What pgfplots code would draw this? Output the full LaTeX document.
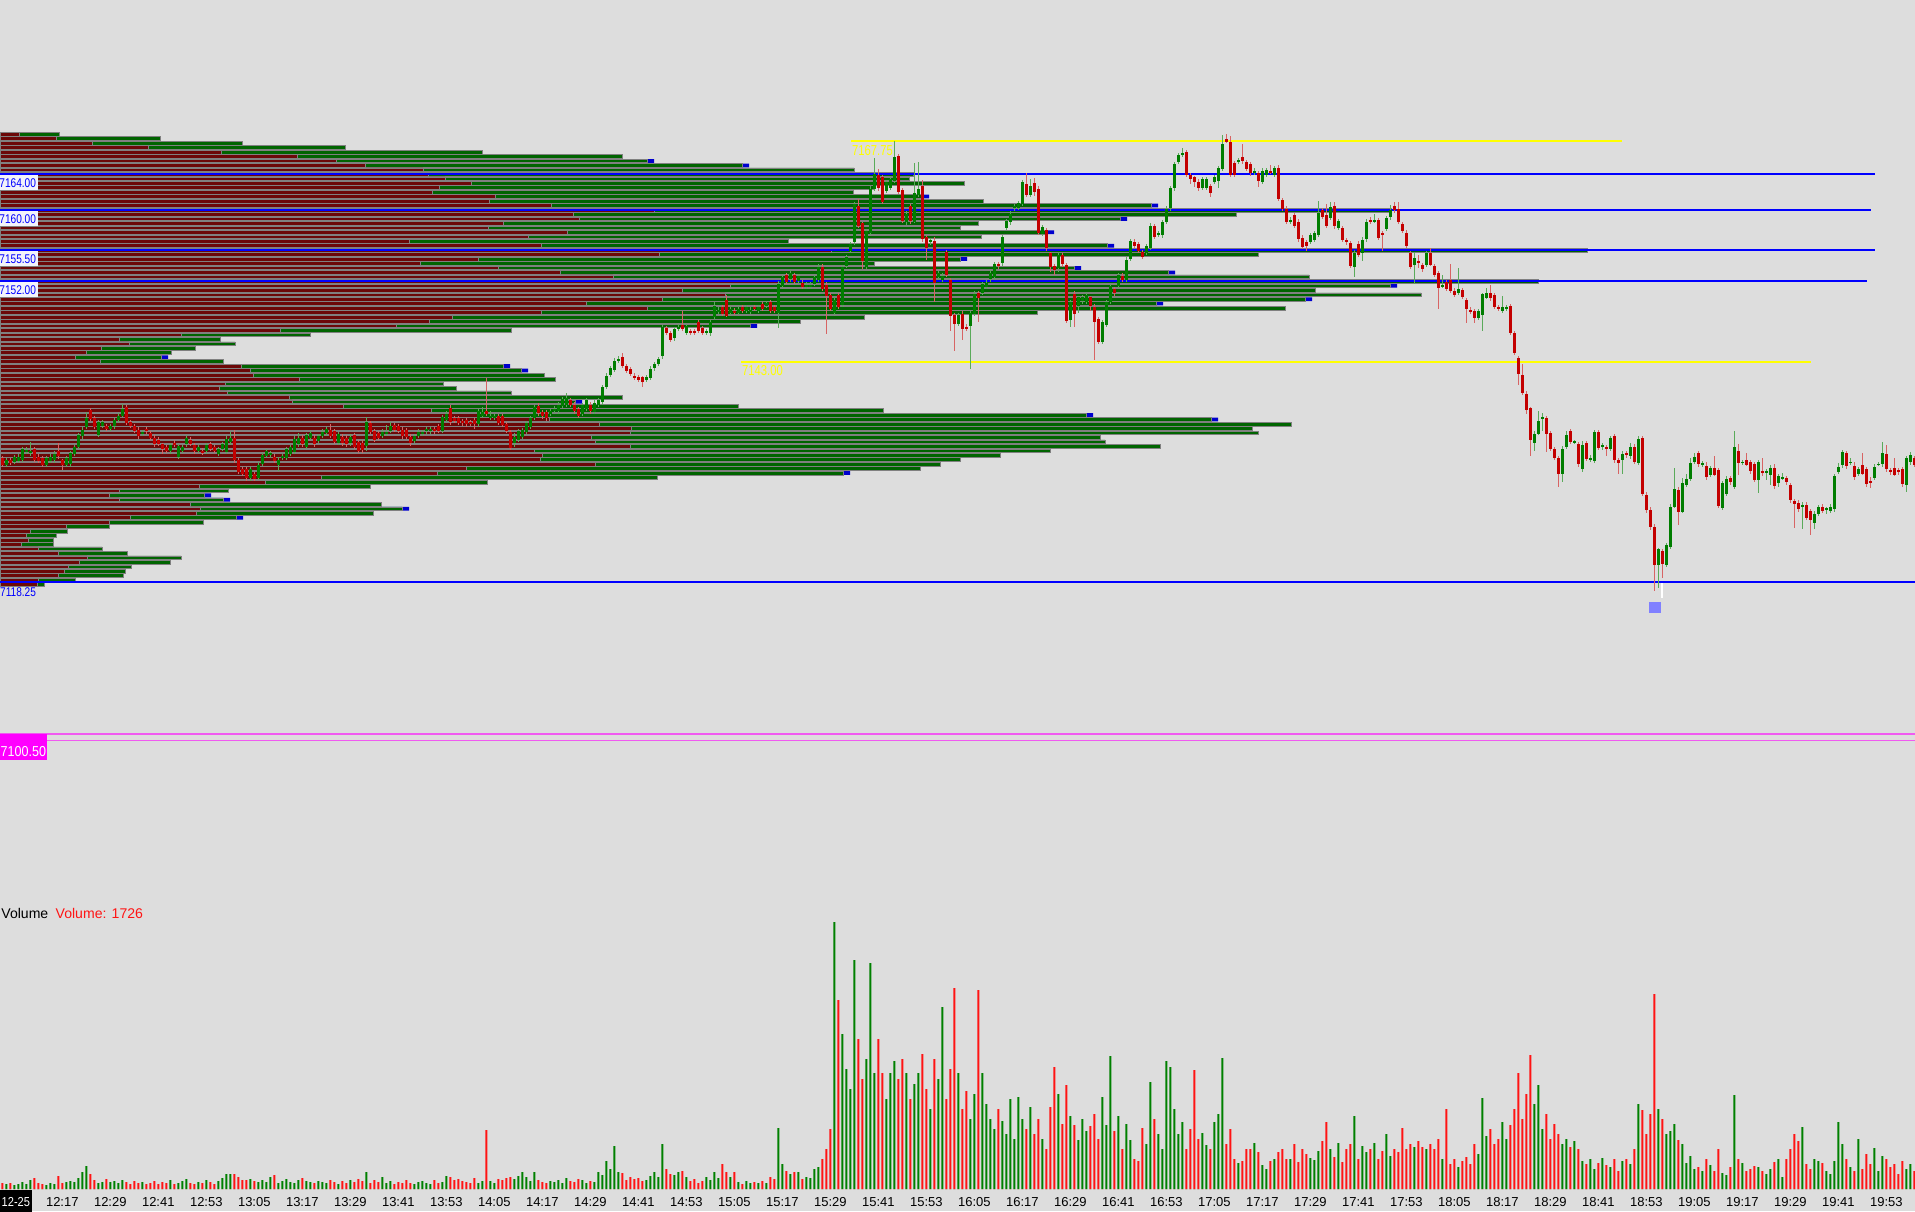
\documentclass[border=0pt]{standalone}
\usepackage{pgfplots}
\pgfplotsset{compat=1.18}
\usepackage{pgfplotstable}
\usepackage{fontspec}
\setmainfont{Liberation Sans}
\definecolor{bg}{RGB}{221,221,221}
\definecolor{pred}{RGB}{108,8,8}
\definecolor{pgreen}{RGB}{0,100,0}
\definecolor{pblue}{RGB}{0,0,205}
\definecolor{cgreen}{RGB}{0,125,0}
\definecolor{cred}{RGB}{195,0,0}
\definecolor{wgreen}{RGB}{90,170,90}
\definecolor{wred}{RGB}{215,100,100}
\definecolor{vgreen}{RGB}{0,128,0}
\definecolor{vred}{RGB}{255,20,20}
\definecolor{lvlblue}{RGB}{0,0,255}
\definecolor{lvlyellow}{RGB}{255,255,0}
\definecolor{lvlmag}{RGB}{240,90,240}
\definecolor{boxbg}{RGB}{243,243,250}
\definecolor{boxmag}{RGB}{255,0,255}
\definecolor{mk}{RGB}{128,128,255}

\pgfplotstableread{
p r g b
7168.5 19 59 0
7168.0 56 160 0
7167.5 92 242 0
7167.0 148 345 0
7166.5 221 482 0
7166.0 297 622 0
7165.5 336 654 1
7165.0 365 749 1
7164.5 423 854 0
7164.0 428 913 0
7163.5 445 909 0
7163.0 471 964 0
7162.5 439 873 0
7162.0 432 853 0
7161.5 495 929 1
7161.0 489 983 0
7160.5 551 1158 1
7160.0 654 1391 0
7159.5 573 1236 0
7159.0 579 1127 1
7158.5 503 978 0
7158.0 488 960 0
7157.5 567 1054 1
7157.0 528 981 0
7156.5 409 788 0
7156.0 541 1114 1
7155.5 831 1587 0
7155.0 659 1258 0
7154.5 478 967 1
7154.0 420 874 0
7153.5 498 1081 1
7153.0 560 1175 1
7152.5 613 1309 0
7152.0 778 1538 0
7151.5 730 1397 1
7151.0 682 1315 0
7150.5 725 1421 0
7150.0 662 1312 1
7149.5 586 1163 1
7149.0 647 1285 0
7148.5 541 1037 0
7148.0 452 864 0
7147.5 429 800 0
7147.0 396 757 1
7146.5 280 511 0
7146.0 181 310 0
7145.5 119 220 0
7145.0 129 235 0
7144.5 101 195 0
7144.0 86 171 0
7143.5 75 168 1
7143.0 100 223 0
7142.5 241 510 1
7142.0 250 528 1
7141.5 253 544 0
7141.0 299 555 0
7140.5 225 443 0
7140.0 219 456 0
7139.5 227 511 0
7139.0 289 622 0
7138.5 292 582 1
7138.0 343 738 0
7137.5 431 883 0
7137.0 479 1093 1
7136.5 549 1218 1
7136.0 599 1291 0
7135.5 631 1252 0
7135.0 630 1258 0
7134.5 591 1100 0
7134.0 595 1105 0
7133.5 630 1160 0
7133.0 534 1050 0
7132.5 542 1000 0
7132.0 540 960 0
7131.5 595 940 0
7131.0 466 920 0
7130.5 437 850 1
7130.0 321 657 0
7129.5 265 487 0
7129.0 199 370 0
7128.5 119 228 0
7128.0 109 211 1
7127.5 119 230 1
7127.0 190 381 0
7126.5 200 409 1
7126.0 196 373 0
7125.5 130 243 1
7125.0 109 203 0
7124.5 66 109 0
7124.0 30 67 0
7123.5 26 56 0
7123.0 28 53 0
7122.5 21 53 0
7122.0 38 102 0
7121.5 58 127 0
7121.0 87 181 0
7120.5 79 170 0
7120.0 68 131 0
7119.5 64 125 0
7119.0 58 123 0
7118.5 38 75 0
7118.0 37 44 0
}\profile

\pgfplotstableread{
t o h l c v
2 7132.25 7132.5 7131.25 7131.5 6
3 7131.5 7132.25 7131.25 7132 5
4 7132 7132.25 7131.5 7131.75 6
5 7131.75 7132.5 7131.5 7132.25 4
6 7132 7132.75 7131.75 7132.5 5
7 7132 7133.5 7131.75 7133.25 7
8 7133 7133.5 7132.75 7133.25 5
9 7132.75 7134 7132.5 7133 9
10 7133.25 7133.5 7131.75 7132 11
11 7132.5 7132.75 7131.75 7132 6
12 7132.25 7132.5 7131.25 7131.5 5
13 7131.5 7132.5 7131.25 7132.25 4
14 7132 7132.75 7131.75 7132.5 6
15 7132 7133 7131.75 7132.75 5
16 7133 7134 7132.25 7132.5 13
17 7132 7132.25 7131 7131.5 6
18 7131.5 7132.5 7131.25 7132.25 7
19 7131.5 7133 7131.25 7132.75 8
20 7132.75 7133.75 7132.5 7133.5 7
21 7133.5 7135 7133.25 7134.75 11
22 7134.75 7135.75 7134.5 7135.5 17
23 7135.75 7137.5 7135.5 7136.75 23
24 7137.75 7138 7136.5 7136.75 15
25 7136.75 7137 7135.5 7135.75 9
26 7134.75 7136.5 7134.5 7136.25 6
27 7135.75 7136.5 7135.5 7136.25 7
28 7135.75 7136 7135.25 7135.5 10
29 7135.5 7136 7135.25 7135.75 7
30 7135.75 7136.75 7135.5 7136.5 8
31 7136.5 7137.25 7136.25 7137 6
32 7137 7138.25 7136.75 7137.75 9
33 7138 7138.25 7136 7136.25 7
34 7136.25 7136.5 7135.5 7135.75 5
35 7135.75 7136 7135 7135.25 8
36 7135.5 7135.75 7134.5 7134.75 6
37 7135 7135.5 7134.75 7135.25 7
38 7135.5 7135.75 7135 7135.25 5
39 7135 7135.25 7134.25 7134.5 6
40 7134.5 7134.75 7133.5 7133.75 8
41 7134.25 7134.5 7133.5 7133.75 5
42 7133.75 7134 7132.75 7133.25 7
43 7133.5 7133.75 7132.75 7133 6
44 7133 7134 7132.75 7133.75 9
45 7134 7134.25 7133.5 7133.75 5
46 7132.25 7133.75 7132 7133.5 6
47 7133 7133.75 7132.75 7133.5 8
48 7133.75 7134.75 7133.5 7134.5 10
49 7134.25 7134.5 7133.5 7133.75 6
50 7133.75 7134 7132.75 7133 5
51 7133 7133.75 7132.75 7133.5 7
52 7133 7133.25 7132.5 7132.75 6
53 7133 7134 7132.75 7133.75 9
54 7133.75 7134 7133 7133.25 7
55 7133.5 7133.75 7132.75 7133 5
56 7132.75 7133.5 7132.5 7133.25 8
57 7133.25 7134 7133 7133.75 11
58 7133 7134.75 7132.75 7134.5 15
59 7134 7135.25 7133.75 7134.5 15
60 7134.5 7135.5 7131.75 7132 15
61 7132 7132.25 7130.5 7130.75 12
62 7131 7131.25 7130.25 7130.5 9
63 7131 7131.25 7129.75 7130 9
64 7130 7131.25 7129.75 7131 10
65 7130.5 7130.75 7129.75 7130 8
66 7130 7131.75 7129.75 7131.5 7
67 7131.5 7132.75 7131.25 7132.5 9
68 7132.5 7133.25 7132.25 7133 7
69 7132.5 7133 7132.25 7132.75 12
70 7132.5 7132.75 7131.75 7132 14
71 7131.5 7132.25 7130.75 7132 6
72 7132.25 7132.75 7132 7132.5 8
73 7132.25 7133.5 7132 7133.25 10
74 7132.75 7133.75 7132.5 7133.5 7
75 7133 7134.75 7132.75 7134.5 6
76 7133.75 7135 7133.5 7134.5 9
77 7134.5 7134.75 7133.5 7133.75 11
78 7133.5 7135 7133.25 7134.75 8
79 7134.5 7135.25 7134.25 7135 7
80 7134.5 7134.75 7133.5 7133.75 6
81 7134.25 7135 7134 7134.75 8
82 7134.75 7135.5 7134.5 7135.25 7
83 7135 7135.75 7134.75 7135.5 6
84 7135.5 7136 7134.5 7134.75 9
85 7135.25 7135.5 7133.75 7134 7
86 7134 7135.25 7133.75 7135 5
87 7134.75 7135 7133.75 7134 8
88 7134.5 7134.75 7133.5 7133.75 6
89 7134 7135 7133.75 7134.75 9
90 7134.75 7135 7133.25 7133.5 7
91 7134 7134.25 7132.75 7133 10
92 7134 7134.25 7132.75 7133.25 8
93 7133.5 7136.75 7133 7136.25 17
94 7136.25 7136.5 7135 7135.25 6
95 7135.25 7135.5 7134 7134.25 9
96 7135 7135.25 7134.25 7134.5 7
97 7134.75 7135.5 7134.5 7135.25 12
98 7135 7136 7134.75 7135.25 6
99 7135.25 7136.25 7135 7135.75 8
100 7136 7136.25 7135.25 7135.5 5
101 7135.75 7136 7135 7135.25 7
102 7135.5 7135.75 7134.5 7134.75 6
103 7135.25 7135.5 7134.25 7134.5 9
104 7134.75 7135 7133.75 7134 6
105 7134.25 7135 7134 7134.75 5
106 7134.75 7135.5 7134.5 7135.25 7
107 7135 7135.5 7134.75 7135.25 8
108 7135.25 7135.75 7135 7135.5 6
109 7135.25 7135.75 7135 7135.5 5
110 7135.5 7135.75 7135 7135.25 9
111 7135.75 7136 7135 7135.25 6
112 7135.25 7137 7135 7136.75 7
113 7136.5 7137.5 7136.25 7137.25 13
114 7137.75 7138.25 7136 7136.25 12
115 7136.75 7137 7136.25 7136.5 9
116 7136.75 7137 7136 7136.25 10
117 7136.5 7136.75 7136 7136.25 8
118 7136.5 7136.75 7135.75 7136 7
119 7136.25 7136.5 7135.75 7136 6
120 7136.5 7136.75 7135.5 7136 11
121 7136 7137.75 7135.75 7137.5 6
122 7137 7138 7136.75 7137.5 8
123 7137.5 7141.25 7137 7137.25 59
124 7136.75 7137.5 7136.5 7137 8
125 7136.75 7137.25 7136.5 7137 6
126 7137 7137.25 7136 7136.25 10
127 7137 7137.25 7135.75 7136 9
128 7136 7136.25 7135 7135.25 11
129 7135.25 7135.5 7133.25 7133.5 12
130 7134 7135 7133.5 7134.75 10
131 7134.25 7135.5 7134 7135.25 13
132 7134.5 7135.5 7134.25 7135.25 17
133 7135.25 7136.5 7135 7136.25 12
134 7135.75 7137 7135.5 7136.75 8
135 7136.75 7138.25 7136.5 7138 17
136 7138 7138.5 7137 7137.25 9
137 7137.5 7137.75 7136.75 7137 7
138 7137.5 7137.75 7136.5 7136.75 6
139 7137.25 7137.75 7137 7137.5 8
140 7137.5 7138 7137.25 7137.75 7
141 7137.5 7138.5 7137.25 7138.25 9
142 7138 7139 7137.75 7138.75 6
143 7138.25 7139.5 7138 7139 11
144 7138.75 7139 7138 7138.25 8
145 7138.25 7138.5 7137.25 7137.5 7
146 7137.75 7138 7136.75 7137 10
147 7137.25 7138.5 7137 7138.25 9
148 7137.75 7139 7137.5 7138.75 6
149 7138.25 7138.5 7137.25 7137.5 8
150 7137.5 7138.75 7137.25 7138.5 7
151 7138.25 7139 7138 7138.75 17
152 7138.5 7140.5 7138.25 7140.25 14
153 7140.25 7141.75 7140 7141.5 28
154 7141.5 7142.5 7141.25 7142.25 20
155 7142.25 7143.5 7142 7143.25 43
156 7143.25 7143.75 7143 7143.5 17
157 7143.5 7144 7142.25 7142.5 16
158 7142.5 7142.75 7141.75 7142 9
159 7142.25 7142.5 7141.5 7141.75 12
160 7141.5 7141.75 7141 7141.25 10
161 7141.25 7141.5 7140.75 7141 11
162 7141.25 7141.5 7140.25 7140.75 8
163 7141 7141.5 7140.75 7141.25 9
164 7141.25 7142.5 7141 7142.25 13
165 7142.25 7143 7142 7142.75 17
166 7142.75 7143.5 7142.5 7143.25 12
167 7143.75 7147.25 7143.5 7147 45
168 7146.75 7147 7146 7146.25 20
169 7146.25 7146.5 7145.25 7145.5 15
170 7145.75 7147 7145.5 7146.75 14
171 7146.75 7147.25 7146.5 7147 17
172 7147.25 7148.75 7146.5 7146.75 18
173 7146.25 7147.25 7146 7147 12
174 7146.5 7146.75 7146 7146.25 8
175 7146.5 7146.75 7146 7146.25 10
176 7147.5 7147.75 7146.25 7146.5 6
177 7146.75 7147 7146 7146.25 8
178 7146.25 7146.75 7146 7146.5 12
179 7146.25 7147.75 7146 7147.5 9
180 7148 7149.75 7147.75 7149.25 17
181 7148.75 7149.25 7148.5 7149 11
182 7149.25 7149.5 7148.25 7148.5 25
183 7150 7150.5 7148 7148.25 17
184 7148.5 7149.25 7148.25 7149 12
185 7148.75 7149 7148.25 7148.5 17
186 7148.5 7149.25 7148.25 7149 7
187 7149.25 7149.5 7148.5 7148.75 5
188 7148.75 7149.5 7148.5 7149.25 8
189 7148.75 7149.25 7148.5 7149 6
190 7149.25 7149.5 7148.75 7149 7
191 7148.75 7149.5 7148.5 7149.25 6
192 7149.5 7149.75 7148.75 7149 8
193 7149.25 7149.75 7149 7149.5 6
194 7149.75 7150 7148.5 7148.75 12
195 7149.25 7149.5 7148.5 7148.75 10
196 7148.5 7152 7146.75 7151.75 61
197 7151.5 7152.75 7151.25 7152.5 25
198 7152.75 7153 7151.75 7152 18
199 7152.25 7153.25 7152 7153 15
200 7152.75 7153 7151.75 7152 17
201 7152 7152.75 7151.75 7152.5 17
202 7152 7152.25 7151.25 7151.5 10
203 7151.5 7152 7151.25 7151.75 12
204 7151.5 7152 7151.25 7151.75 11
205 7151.75 7152.75 7151.5 7152.5 20
206 7152.25 7154 7152 7153.75 22
207 7153.75 7154 7151 7151.25 30
208 7151.75 7152 7146.25 7150.5 40
209 7150.5 7150.75 7148.75 7149 60
210 7148.5 7150.25 7148.25 7150 267
211 7150.5 7150.75 7149 7149.25 189
212 7149.5 7154 7149.25 7153.75 155
213 7153.75 7155 7153.5 7154.75 120
214 7155.5 7156.5 7155.25 7156.25 100
215 7156.5 7161 7156.25 7160.75 229
216 7160.5 7161.25 7158 7158.25 150
217 7158.5 7158.75 7153.5 7154.25 110
218 7153.75 7158 7153.5 7157.75 130
219 7157.5 7162.75 7157.25 7162.5 226
220 7162.5 7166 7162.25 7164.25 116
221 7164 7164.75 7162.25 7162.5 150
222 7163.75 7164 7160.75 7161 116
223 7162.25 7163.5 7162 7163.25 90
224 7162.5 7163.75 7162.25 7163.5 116
225 7163.25 7167.75 7163 7166 128
226 7166 7166.25 7161.75 7162 110
227 7162.25 7162.5 7158.5 7158.75 130
228 7158.75 7160 7158.5 7159.75 116
229 7160.5 7160.75 7158.5 7158.75 90
230 7158.75 7165.25 7158.5 7162 105
231 7161.75 7165.5 7161.5 7162.5 116
232 7162.75 7163.5 7156.5 7156.75 135
233 7157 7157.25 7154.5 7155.75 100
234 7156.5 7157 7156.25 7156.75 80
235 7156.75 7157 7149.75 7152 130
236 7152.5 7153.25 7152.25 7153 110
237 7152.25 7153 7152 7152.75 182
238 7155.25 7155.5 7152.5 7152.75 90
239 7152.25 7152.5 7146.5 7148.25 120
240 7148.25 7148.5 7144.25 7147.25 201
241 7147.25 7148.5 7147 7148.25 116
242 7148.5 7148.75 7145.5 7146.75 80
243 7147 7147.25 7146.5 7146.75 98
244 7147 7148.75 7142.25 7148.5 70
245 7148.5 7151 7148.25 7150.75 95
246 7150.75 7151 7147.5 7150.25 199
247 7150.75 7152 7150.5 7151.75 116
248 7151.5 7152.25 7151.25 7152 85
249 7152.25 7153.25 7152 7153 70
250 7152.5 7154.25 7152.25 7154 60
251 7154 7154.25 7153.5 7153.75 80
252 7154 7157.25 7153.75 7157 68
253 7158 7159 7157.75 7158.75 55
254 7158.75 7160 7158.5 7159.75 90
255 7160.25 7160.75 7160 7160.5 50
256 7160.25 7161 7160 7160.75 92
257 7160.75 7163.5 7160.5 7163.25 70
258 7163 7164.25 7161.5 7161.75 60
259 7161.75 7163.5 7161.5 7162.75 82
260 7163 7163.75 7161.75 7162 55
261 7162.5 7162.75 7157.25 7157.5 70
262 7157.5 7158.5 7157.25 7158.25 50
263 7157.75 7158 7155.5 7155.75 40
264 7155.25 7155.5 7153.25 7153.75 82
265 7153.75 7154 7152.75 7153.25 122
266 7153.5 7155.5 7153.25 7155 95
267 7155 7155.25 7153.75 7154 65
268 7154 7154.25 7147.5 7147.75 104
269 7147.75 7150 7147 7149.75 73
270 7150.75 7151 7147 7148.5 64
271 7149.25 7150.5 7148.5 7150.25 49
272 7149.75 7150.5 7149.5 7150.25 70
273 7149.75 7150.75 7149.5 7150.5 58
274 7150.25 7150.5 7148.75 7149.25 63
275 7149.25 7149.5 7143.25 7147.5 75
276 7147.75 7148 7145 7145.25 50
277 7145.25 7147.75 7145 7147.5 92
278 7147.25 7150 7147 7149.75 64
279 7149.75 7151.75 7149.5 7151.5 133
280 7151.25 7151.5 7150.5 7150.75 58
281 7151.5 7153 7151.25 7152.75 73
282 7152.75 7153 7152 7152.25 40
283 7152.25 7154.75 7152 7154.5 65
284 7154.5 7156.75 7154.25 7156.5 49
285 7156.5 7156.75 7155.75 7156 30
286 7156.25 7156.5 7155.25 7155.5 28
287 7155.25 7155.5 7154.5 7154.75 61
288 7155.25 7156.25 7155 7156 45
289 7155.75 7158.5 7155.5 7158.25 107
290 7158.25 7158.5 7156.75 7157 70
291 7157.25 7157.75 7157 7157.5 55
292 7157.25 7159 7157 7158.75 40
293 7158.75 7160.5 7158.5 7160.25 128
294 7160.25 7162.75 7160 7162.5 122
295 7162.5 7165.5 7162.25 7165.25 80
296 7165.5 7166.5 7165.25 7166.25 55
297 7166.25 7167 7166 7166.5 67
298 7166.5 7166.75 7163.75 7164 40
299 7164 7164.25 7163 7163.5 60
300 7163.75 7164 7162.75 7163.25 119
301 7163.25 7163.5 7162.25 7162.5 50
302 7162.5 7163.75 7162.25 7163.5 56
303 7162.5 7163.75 7162.25 7163.5 44
304 7162.75 7163 7161.5 7162 40
305 7163.25 7164 7163 7163.75 67
306 7163.25 7165 7162.5 7164.75 75
307 7164.75 7168.5 7164.5 7167.5 131
308 7168 7168.5 7167.5 7167.75 45
309 7167.75 7168.25 7163.75 7164 60
310 7165.25 7165.5 7163.75 7164 30
311 7165.5 7166 7165.25 7165.75 26
312 7166 7167.5 7165.25 7165.5 28
313 7165.5 7165.75 7164.5 7164.75 40
314 7165.25 7165.5 7164 7164.25 40
315 7164.25 7164.75 7164 7164.5 46
316 7164.25 7164.5 7162.75 7163.25 37
317 7163.25 7164.75 7163 7164.5 24
318 7164 7164.75 7163.75 7164.5 20
319 7164.5 7165 7164 7164.25 28
320 7164 7165 7163.75 7164.75 30
321 7164.75 7165 7161 7161.25 37
322 7161.25 7161.5 7160 7160.25 40
323 7160.25 7160.5 7158.5 7158.75 30
324 7158.75 7159.25 7158.5 7159 30
325 7159.5 7159.75 7158 7158.25 45
326 7158.75 7159 7156.5 7156.75 27
327 7157 7157.25 7155.75 7156 40
328 7156.5 7156.75 7155.5 7156 35
329 7156.5 7157.5 7156.25 7157.25 31
330 7156.75 7157.75 7156.5 7157.5 29
331 7157.25 7161 7157 7159.75 38
332 7160 7160.25 7159 7159.25 48
333 7159.5 7160.75 7158 7158.25 67
334 7159.25 7161 7159 7160.5 40
335 7160.5 7161 7158 7158.25 32
336 7158 7159 7157.75 7158.75 46
337 7158 7158.25 7156.5 7156.75 27
338 7156.75 7157 7156.25 7156.5 40
339 7156.25 7156.5 7153.5 7153.75 45
340 7153.75 7155.5 7152.5 7155.25 73
341 7156.25 7156.5 7154.75 7155 30
342 7155.25 7157 7154.25 7156.75 43
343 7156.75 7159 7156.5 7158.75 37
344 7159 7159.25 7158.5 7158.75 40
345 7158.75 7159.5 7158.5 7159 46
346 7159 7159.25 7156.75 7157 30
347 7157.5 7157.75 7155.5 7157.25 38
348 7158 7159.5 7157.75 7159.25 55
349 7159.25 7160.75 7159 7160 33
350 7160.5 7161 7159.75 7160 40
351 7160.25 7161 7158.5 7158.75 37
352 7158.5 7158.75 7157.5 7157.75 61
353 7157.5 7157.75 7155.75 7156 40
354 7155.25 7155.5 7153.5 7153.75 45
355 7154 7155.25 7151.75 7154.75 42
356 7154.5 7155 7153.5 7154.25 48
357 7154 7154.25 7153.25 7153.5 42
358 7154 7155.5 7153.75 7155.25 40
359 7155.25 7155.75 7153.75 7154 45
360 7153.75 7154 7152.5 7152.75 40
361 7153 7153.25 7149 7151.25 50
362 7151.5 7152.75 7151.25 7151.75 30
363 7152 7152.25 7151 7151.25 80
364 7152.25 7154 7150.75 7151 25
365 7151 7151.25 7150.25 7150.5 30
366 7150.75 7153.5 7150.5 7151.25 22
367 7151 7151.25 7150 7150.25 28
368 7150 7150.25 7147.5 7149 32
369 7149 7149.25 7148.5 7148.75 25
370 7148.75 7149 7147.5 7148 45
371 7148 7149 7147.75 7148.75 35
372 7148.25 7150.75 7146.5 7150.5 91
373 7150.25 7151.25 7150 7150.75 53
374 7150.75 7151.75 7150 7150.25 60
375 7150.5 7150.75 7149 7149.25 45
376 7149.25 7149.5 7148.75 7149 50
377 7148.75 7150.5 7148.5 7149.25 67
378 7149 7149.5 7148.75 7149.25 50
379 7149.25 7149.5 7146 7146.25 64
380 7146.25 7146.5 7143.75 7144 80
381 7143.5 7143.75 7140.5 7141.75 116
382 7141.5 7142.75 7139.25 7139.5 70
383 7139.5 7139.75 7137.25 7137.75 95
384 7137.75 7138 7132.5 7134.25 134
385 7134 7135.25 7133 7135 85
386 7135 7137.5 7134.75 7136.5 104
387 7136.75 7137.25 7135.25 7136.75 60
388 7136.75 7137 7133 7135 75
389 7135 7135.25 7133 7133.25 50
390 7133.25 7133.5 7132 7132.25 65
391 7132.25 7132.5 7129 7130.5 55
392 7130.5 7133.5 7129.5 7133.25 45
393 7133.5 7135.25 7133.25 7134.75 50
394 7135.25 7135.5 7133.75 7134 42
395 7134 7134.25 7133.75 7134 48
396 7133.75 7134 7131.25 7131.5 40
397 7131 7134.25 7130.75 7133.75 28
398 7134 7134.25 7132 7132.25 25
399 7132 7132.5 7131.75 7132.25 30
400 7132 7135.5 7131.75 7135.25 20
401 7135.25 7135.5 7133.25 7133.5 26
402 7133.5 7134 7133.25 7133.75 31
403 7133.5 7133.75 7132.5 7133.25 24
404 7133.25 7134.75 7133 7134.5 22
405 7134.75 7135 7131.75 7132 30
406 7132 7132.25 7130.5 7131.75 18
407 7132 7133 7130.5 7132.75 28
408 7132.75 7133 7132.25 7132.5 30
409 7132.5 7134 7132.25 7133.5 25
410 7133.5 7133.75 7131.5 7131.75 40
411 7131.75 7134.75 7131.5 7134.5 85
412 7134.5 7134.75 7128 7128.25 79
413 7128.25 7128.5 7126.25 7126.5 55
414 7126.5 7126.75 7124.25 7124.5 75
415 7124.5 7124.75 7117.25 7120.25 195
416 7120.25 7122.25 7117.75 7122 80
417 7121.75 7122 7118.75 7120.25 70
418 7120.25 7122.75 7120 7122.5 55
419 7122.25 7127 7122 7126.75 58
420 7126.75 7131 7126.5 7128.75 65
421 7128.75 7129 7124.75 7126.25 49
422 7126.25 7130 7126 7129.5 45
423 7129.25 7130.5 7129 7130 26
424 7130 7132.25 7129.75 7131.75 33
425 7131.75 7132.75 7131.5 7132.25 20
426 7132.75 7133 7131.25 7131.5 22
427 7131.5 7132 7131.25 7131.75 18
428 7131.5 7131.75 7129.75 7130.25 30
429 7130.5 7131.5 7130.25 7131.25 24
430 7131.25 7132.5 7130.25 7130.5 18
431 7130.75 7131 7126.5 7126.75 40
432 7126.75 7129.75 7126.5 7129.5 16
433 7128.25 7130.25 7128 7130 14
434 7130 7130.25 7129.25 7129.5 22
435 7129 7135.25 7128.75 7133.5 94
436 7133 7133.75 7130.25 7131.75 30
437 7131.75 7132 7131.5 7131.75 26
438 7132 7132.75 7131.25 7131.5 18
439 7131.75 7132 7130.5 7130.75 20
440 7131.5 7131.75 7129.5 7129.75 23
441 7129.75 7132 7128.25 7131.75 22
442 7130.75 7132.25 7130.25 7130.5 18
443 7130.5 7131 7129.75 7130.75 15
444 7130.5 7131.5 7129.25 7131.25 20
445 7131.25 7131.5 7128.75 7129.25 27
446 7129.5 7130.5 7129 7130.25 30
447 7130 7130.5 7129.75 7130 12
448 7130 7130.25 7129.25 7129.5 30
449 7129.25 7129.5 7127.25 7127.5 40
450 7127.5 7127.75 7124.5 7127.25 55
451 7127.25 7127.5 7126.25 7126.5 48
452 7126.75 7127.25 7124.25 7127 62
453 7127 7127.25 7125.25 7125.5 25
454 7126.25 7126.5 7123.5 7125.25 20
455 7125 7126.25 7124.25 7126 30
456 7126 7127 7125.75 7126.75 28
457 7126.75 7127 7126 7126.25 26
458 7126.5 7126.75 7126 7126.5 18
459 7126.25 7127 7126 7126.75 15
460 7126.5 7130.5 7126.25 7130.25 28
461 7130.75 7131.75 7130.5 7131.25 67
462 7131.5 7133.25 7131.25 7133 45
463 7132.75 7133 7131 7131.25 30
464 7131.75 7132.25 7131.5 7131.75 22
465 7131.5 7131.75 7129.75 7130.25 18
466 7130.5 7131.25 7130.25 7131 50
467 7131.5 7132.75 7130.25 7130.5 20
468 7131 7131.25 7129 7129.25 35
469 7129.75 7130 7128.75 7129.5 25
470 7130 7131.5 7129.75 7131.25 41
471 7131.5 7131.75 7131.25 7131.5 18
472 7131.5 7134 7131.25 7132.75 33
473 7132.75 7133.75 7130.75 7131 30
474 7131 7131.25 7130.5 7130.75 22
475 7131.25 7132.25 7130.25 7130.5 25
476 7131 7131.25 7130.5 7130.75 15
477 7131 7131.25 7129 7129.25 28
478 7129.25 7132.5 7128.5 7132.25 20
479 7131.75 7133 7131.5 7132.5 25
480 7132.25 7132.5 7131.25 7131.5 18
}\candles

\pgfplotsset{
  paneP/.style={hide axis, scale only axis, width=19.15cm, height=8.70cm,
    at={(0cm,3.41cm)}, anchor=south west, ymin=7085.989, ymax=7183.545},
  prow/.style={xbar, bar shift=0pt, bar width=0.42},
}
\tikzset{lbl/.style={inner sep=0pt, font=\fontsize{3.6}{4.2}\selectfont}}

\begin{document}
\begin{tikzpicture}
\useasboundingbox (0,0) rectangle (19.15,12.11);
\clip (0,0) rectangle (19.15,12.11);
\fill[bg] (0,0) rectangle (19.15,12.11);

% ---------- volume profile (x in pixels) ----------
\begin{axis}[paneP, xmin=0, xmax=1915]
\addplot[prow, fill=pblue, draw=none] table[x expr=\thisrow{b}*\thisrow{g}, y=p]{\profile};
\addplot[prow, fill=pgreen, draw=gray, line width=0.18pt] table[x expr=\thisrow{g}-7*\thisrow{b}, y=p]{\profile};
\addplot[prow, fill=pred, draw=gray, line width=0.18pt] table[x=r, y=p]{\profile};
\end{axis}

% ---------- price panel (x in minutes after 12:00) ----------
\begin{axis}[paneP, xmin=1.425, xmax=480.175]
\addplot[lvlyellow, line width=0.6pt] coordinates {(214.2,7167.75) (406.9,7167.75)};
\addplot[lvlyellow, line width=0.6pt] coordinates {(186.7,7143) (454.2,7143)};
\addplot[lvlblue, line width=0.55pt] coordinates {(1.425,7164) (470.2,7164)};
\addplot[lvlblue, line width=0.55pt] coordinates {(1.425,7160) (469.2,7160)};
\addplot[lvlblue, line width=0.55pt] coordinates {(1.425,7155.5) (470.2,7155.5)};
\addplot[lvlblue, line width=0.55pt] coordinates {(1.425,7152) (468.2,7152)};
\addplot[lvlblue, line width=0.55pt] coordinates {(1.425,7118.25) (480.175,7118.25)};
\addplot[lvlmag, line width=0.6pt] coordinates {(1.425,7101.27) (480.175,7101.27)};
\addplot[lvlmag, line width=0.3pt] coordinates {(1.425,7100.53) (480.175,7100.53)};

% wicks
\addplot[draw=none, mark=none, restrict y to domain=7080:7200,
  error bars/.cd, y dir=both, y explicit, error mark=none,
  error bar style={draw=wgreen, line width=0.3pt}]
  table[x=t, y expr={\thisrow{c}<\thisrow{o} ? 7000 : (\thisrow{h}+\thisrow{l})/2},
        y error expr={(\thisrow{h}-\thisrow{l})/2}]{\candles};
\addplot[draw=none, mark=none, restrict y to domain=7080:7200,
  error bars/.cd, y dir=both, y explicit, error mark=none,
  error bar style={draw=wred, line width=0.3pt}]
  table[x=t, y expr={\thisrow{c}<\thisrow{o} ? (\thisrow{h}+\thisrow{l})/2 : 7000},
        y error expr={(\thisrow{h}-\thisrow{l})/2}]{\candles};
% bodies
\addplot[draw=none, mark=none, restrict y to domain=7080:7200,
  error bars/.cd, y dir=both, y explicit, error mark=none,
  error bar style={draw=cgreen, line width=0.78pt}]
  table[x=t, y expr={\thisrow{c}<\thisrow{o} ? 7000 : (\thisrow{o}+\thisrow{c})/2},
        y error expr={max(abs(\thisrow{c}-\thisrow{o})/2,0.07)}]{\candles};
\addplot[draw=none, mark=none, restrict y to domain=7080:7200,
  error bars/.cd, y dir=both, y explicit, error mark=none,
  error bar style={draw=cred, line width=0.78pt}]
  table[x=t, y expr={\thisrow{c}<\thisrow{o} ? (\thisrow{o}+\thisrow{c})/2 : 7000},
        y error expr={max(abs(\thisrow{c}-\thisrow{o})/2,0.07)}]{\candles};

\addplot[white, line width=0.6pt] coordinates {(417,7118.15) (417,7116.5)};
\addplot[only marks, mark=square*, mark size=0.05cm, color=mk] coordinates {(415.2,7115.45)};

% price level labels
\fill[boxbg] (axis cs:1.425,7163.89) rectangle (axis cs:10.85,7162.2);
\node[lbl, anchor=east, text=lvlblue] at (axis cs:10.6,7163.02) {\scalebox{0.8}[1]{7164.00}};
\fill[boxbg] (axis cs:1.425,7159.89) rectangle (axis cs:10.85,7158.2);
\node[lbl, anchor=east, text=lvlblue] at (axis cs:10.6,7159.02) {\scalebox{0.8}[1]{7160.00}};
\fill[boxbg] (axis cs:1.425,7155.39) rectangle (axis cs:10.85,7153.7);
\node[lbl, anchor=east, text=lvlblue] at (axis cs:10.6,7154.52) {\scalebox{0.8}[1]{7155.50}};
\fill[boxbg] (axis cs:1.425,7151.89) rectangle (axis cs:10.85,7150.2);
\node[lbl, anchor=east, text=lvlblue] at (axis cs:10.6,7151.02) {\scalebox{0.8}[1]{7152.00}};
\node[lbl, anchor=east, text=lvlblue] at (axis cs:10.6,7117.2) {\scalebox{0.8}[1]{7118.25}};
\fill[boxmag] (axis cs:1.425,7101.27) rectangle (axis cs:13.25,7098.29);
\node[lbl, anchor=east, text=white, font=\fontsize{4.1}{4.5}\selectfont] at (axis cs:13.1,7099.3) {\scalebox{0.87}[1]{7100.50}};
\node[lbl, anchor=west, text=lvlyellow, font=\fontsize{4.1}{4.5}\selectfont] at (axis cs:214.3,7166.69) {\scalebox{0.78}[1]{7167.75}};
\node[lbl, anchor=west, text=lvlyellow, font=\fontsize{4.1}{4.5}\selectfont] at (axis cs:186.8,7142.0) {\scalebox{0.78}[1]{7143.00}};
\end{axis}

% ---------- volume panel ----------
\begin{axis}[scale only axis, width=19.15cm, height=2.89cm, at={(0cm,0.22cm)}, anchor=south west,
  xmin=1.425, xmax=480.175, ymin=0, ymax=289, clip=false,
  axis line style={draw=none}, ytick=\empty, major tick length=0pt,
  xtick={17,29,...,473},
  xticklabels={12:17,12:29,12:41,12:53,13:05,13:17,13:29,13:41,13:53,14:05,14:17,14:29,14:41,14:53,15:05,15:17,15:29,15:41,15:53,16:05,16:17,16:29,16:41,16:53,17:05,17:17,17:29,17:41,17:53,18:05,18:17,18:29,18:41,18:53,19:05,19:17,19:29,19:41,19:53},
  xticklabel style={font=\fontsize{3.7}{4.2}\selectfont, inner sep=0pt, anchor=north, yshift=-0.075cm}]
\addplot[ybar, bar shift=0pt, bar width=0.5, fill=vgreen, draw=none]
  table[x=t, y expr={\thisrow{c}<\thisrow{o} ? 0 : \thisrow{v}}]{\candles};
\addplot[ybar, bar shift=0pt, bar width=0.5, fill=vred, draw=none]
  table[x=t, y expr={\thisrow{c}<\thisrow{o} ? \thisrow{v} : 0}]{\candles};
\fill[black] (axis cs:1.425,-1) rectangle (axis cs:9.425,-22.5);
\node[lbl, anchor=east, text=white, font=\fontsize{3.7}{4.2}\selectfont] at (axis cs:9.1,-12.5) {\scalebox{0.85}[1]{12-25}};
\node[lbl, anchor=west, font=\fontsize{4}{4.5}\selectfont] at (axis cs:1.6,275.3) {Volume};
\node[lbl, anchor=west, text=vred, font=\fontsize{4}{4.5}\selectfont] at (axis cs:15.175,275.3) {Volume: 1726};
\end{axis}
\end{tikzpicture}
\end{document}
